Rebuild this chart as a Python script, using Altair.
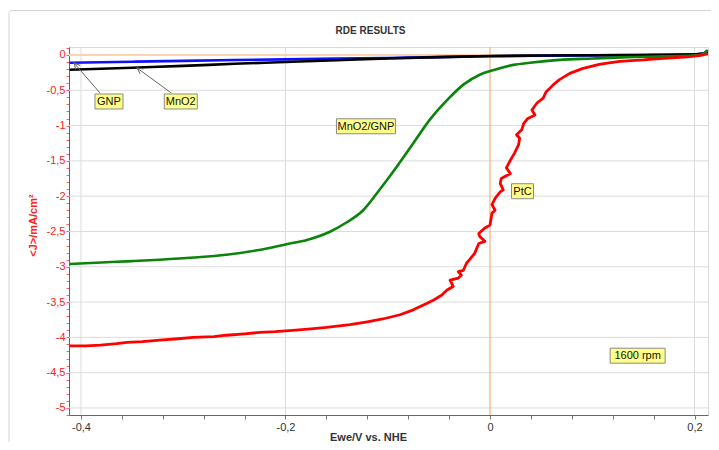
import altair as alt
import pandas as pd

# ---------------- data ----------------
gnp_x = [-0.411, -0.35, -0.3, -0.25, -0.2, -0.15, -0.1, -0.05, 0.0, 0.05, 0.1, 0.15, 0.2, 0.213]
gnp_y = [-0.11, -0.095, -0.083, -0.072, -0.062, -0.052, -0.042, -0.03, -0.018, -0.01, -0.005, -0.001, 0.008, 0.03]

mno2_x = [-0.411, -0.35, -0.3, -0.25, -0.2, -0.15, -0.1, -0.05, 0.0, 0.05, 0.1, 0.15, 0.2, 0.21, 0.213]
mno2_y = [-0.21, -0.18, -0.155, -0.125, -0.10, -0.075, -0.05, -0.03, -0.015, -0.008, -0.003, 0.0, 0.008, 0.025, 0.04]

mg_x = [-0.411, -0.38, -0.35, -0.323, -0.29, -0.258, -0.218, -0.199, -0.179, -0.156, -0.14, -0.124,
        -0.108, -0.091, -0.075, -0.059, -0.042, -0.026, -0.010, 0.002, 0.023, 0.039, 0.068, 0.1,
        0.134, 0.17, 0.205, 0.213]
mg_y = [-2.96, -2.94, -2.92, -2.90, -2.87, -2.83, -2.74, -2.68, -2.62, -2.50, -2.37, -2.20,
        -1.91, -1.58, -1.25, -0.92, -0.64, -0.42, -0.28, -0.22, -0.14, -0.11, -0.07, -0.05,
        -0.03, -0.02, 0.0, 0.07]

ptc_x = [-0.411, -0.395, -0.381, -0.365, -0.355, -0.34, -0.323, -0.305, -0.29, -0.27, -0.258, -0.24,
         -0.225, -0.21, -0.193, -0.175, -0.16, -0.137, -0.12, -0.105, -0.088, -0.075, -0.062, -0.055,
         -0.047, -0.042, -0.036, -0.039, -0.031, -0.028, -0.031, -0.026, -0.023, -0.020, -0.015,
         -0.011, -0.005, -0.010, -0.011, -0.005, 0.000, 0.002, 0.005, 0.002, 0.005, 0.010, 0.013,
         0.010, 0.011, 0.020, 0.016, 0.020, 0.024, 0.028, 0.029, 0.026, 0.031, 0.033, 0.037, 0.044,
         0.041, 0.046, 0.052, 0.055, 0.058, 0.062, 0.068, 0.078, 0.091, 0.108, 0.127, 0.15, 0.166,
         0.19, 0.205, 0.213]
ptc_y = [-4.12, -4.12, -4.11, -4.09, -4.07, -4.06, -4.04, -4.02, -4.00, -3.99, -3.97, -3.95,
         -3.93, -3.92, -3.90, -3.88, -3.86, -3.82, -3.78, -3.74, -3.68, -3.61, -3.52, -3.47,
         -3.40, -3.33, -3.28, -3.19, -3.16, -3.12, -3.07, -3.05, -2.95, -2.90, -2.81,
         -2.67, -2.64, -2.57, -2.53, -2.45, -2.41, -2.24, -2.20, -2.12, -2.03, -1.94, -1.91,
         -1.82, -1.75, -1.68, -1.60, -1.49, -1.39, -1.27, -1.18, -1.13, -1.06, -0.97, -0.90, -0.85,
         -0.78, -0.68, -0.61, -0.52, -0.48, -0.42, -0.35, -0.26, -0.19, -0.13, -0.09, -0.07, -0.05,
         -0.03, -0.01, 0.02]

label_text = ["GNP", "MnO2", "MnO2/GNP", "PtC", "1600 rpm"]
label_x = [-0.3726, -0.3024, -0.1213, 0.0318, 0.1444]
label_y = [-0.659, -0.659, -1.010, -1.93, -4.26]
label_w = [28, 33, 59, 22, 55]

arrow_x = [-0.3814, -0.3117]
arrow_y = [-0.538, -0.538]
arrow_x2 = [-0.4068, -0.3452]
arrow_y2 = [-0.113, -0.184]
arrow_angle = [319, 305]

x_grid = [-0.4, -0.2, 0.2]
y_grid = [-0.5, -1, -1.5, -2, -2.5, -3, -3.5, -4, -4.5, -5]
x_ticks = [-0.4, -0.36, -0.32, -0.28, -0.24, -0.2, -0.16, -0.12, -0.08, -0.04,
           0, 0.04, 0.08, 0.12, 0.16, 0.2]
y_ticks = [round(-0.1 * i, 1) for i in range(-1, 52)]

FONT = "Liberation Sans"
X_SCALE = alt.Scale(domain=[-0.4117, 0.2132], nice=False, zero=False)
Y_SCALE = alt.Scale(domain=[-5.10, 0.113], nice=False, zero=False)

x_axis = alt.Axis(
    values=x_ticks, grid=False, title="Ewe/V vs. NHE",
    labelExpr="indexof([-0.4,-0.2,0,0.2], datum.value) >= 0 ? replace(toString(datum.value), '.', ',') : ''",
    labelFont=FONT, labelFontSize=11, labelColor="#333333", labelPadding=2,
    tickSize=4, tickColor="#777777", domainColor="#666666",
    titleFont=FONT, titleFontSize=11, titleFontWeight="bold", titleColor="#333333",
    titleX=299, titleY=22, titleBaseline="middle", titleAlign="center",
    labelFlush=False, labelOverlap=False,
)
y_axis = alt.Axis(
    values=y_ticks, grid=False, title="<J>/mA/cm²",
    labelExpr="abs(datum.value*2 - round(datum.value*2)) < 0.000001 ? replace(toString(datum.value), '.', ',') : ''",
    labelFont=FONT, labelFontSize=11, labelColor="#ff2020", labelPadding=1,
    tickSize=3, tickColor="#ff6060", domainColor="#ff2020",
    titleFont=FONT, titleFontSize=11, titleFontWeight="bold", titleColor="#ff2020",
    titleX=-31, titleY=178, titleAlign="center", titleAngle=270, titleBaseline="bottom",
    labelFlush=False, labelOverlap=False,
)

def X(field):
    return alt.X(field, type="quantitative", scale=X_SCALE, axis=x_axis)

def Y(field):
    return alt.Y(field, type="quantitative", scale=Y_SCALE, axis=y_axis)

layers = []

# outer frame of the figure (decoration)
layers.append(alt.Chart(pd.DataFrame({"d": [0]})).mark_rect(
    fill=None, stroke="#d4d4d4", strokeWidth=1, cornerRadius=3).encode(
    x=alt.value(-60), x2=alt.value(680), y=alt.value(-36.5), y2=alt.value(430)))

# grid lines
layers.append(alt.Chart(pd.DataFrame({"v": x_grid})).mark_rule(color="#dcdcdc", strokeWidth=1).encode(x=X("v")))
layers.append(alt.Chart(pd.DataFrame({"v": y_grid})).mark_rule(color="#dcdcdc", strokeWidth=1).encode(y=Y("v")))
layers.append(alt.Chart(pd.DataFrame({"v": [0]})).mark_rule(color="#fcd3b0", strokeWidth=2).encode(y=Y("v")))
layers.append(alt.Chart(pd.DataFrame({"v": [0]})).mark_rule(color="#f5a060", strokeWidth=1).encode(x=X("v")))

def series(xs, ys, color, width=2.6, interp="linear"):
    df = pd.DataFrame({"x": xs, "y": ys, "i": list(range(len(xs)))})
    return alt.Chart(df).mark_line(color=color, strokeWidth=width, strokeJoin="round",
                                   interpolate=interp).encode(
        x=X("x"), y=Y("y"), order=alt.Order("i:Q"))

layers.append(series(gnp_x, gnp_y, "#1010ff", interp="monotone"))
layers.append(series(mno2_x, mno2_y, "#000000", interp="monotone"))
layers.append(series(mg_x, mg_y, "#0a840a", interp="monotone"))
layers.append(series(ptc_x, ptc_y, "#ff0000", width=2.8))

# annotation arrows
adf = pd.DataFrame({"x": arrow_x, "y": arrow_y, "x2": arrow_x2, "y2": arrow_y2, "a": arrow_angle})
layers.append(alt.Chart(adf).mark_rule(color="#666666", strokeWidth=1).encode(
    x=X("x"), y=Y("y"), x2="x2", y2="y2"))
layers.append(alt.Chart(adf).mark_point(shape="M-3,6L0,0L3,6", size=4, filled=False,
                                        stroke="#666666", strokeWidth=1, opacity=1).encode(
    x=X("x2"), y=Y("y2"), angle=alt.Angle("a:Q", scale=None)))

# label boxes
for t, lx, ly, w in zip(label_text, label_x, label_y, label_w):
    hw = w / 2
    path = f"M{-hw},-7.5H{hw}V7.5H{-hw}Z"
    ldf = pd.DataFrame({"x": [lx], "y": [ly], "t": [t]})
    layers.append(alt.Chart(ldf).mark_point(shape=path, size=4, filled=True, fill="#ffff88",
                                            stroke="#8a8a8a", strokeWidth=1, opacity=1).encode(
        x=X("x"), y=Y("y")))
    layers.append(alt.Chart(ldf).mark_text(font=FONT, fontSize=11, color="#111111",
                                           align="center", baseline="middle", dy=0.5).encode(
        x=X("x"), y=Y("y"), text="t:N"))

chart = alt.layer(*layers).properties(
    width=639,
    height=368,
    padding={"left": 61, "top": 39, "right": 3, "bottom": 27},
    autosize=alt.AutoSizeParams(type="none"),
    background="white",
    title=alt.TitleParams("RDE RESULTS", font=FONT, fontSize=10, fontWeight="bold",
                          color="#333333", anchor="middle", dx=-18, dy=36, offset=10),
).configure_view(stroke="#d9d9d9")

chart.save("out.html", embed_options={"renderer": "svg", "actions": False})
